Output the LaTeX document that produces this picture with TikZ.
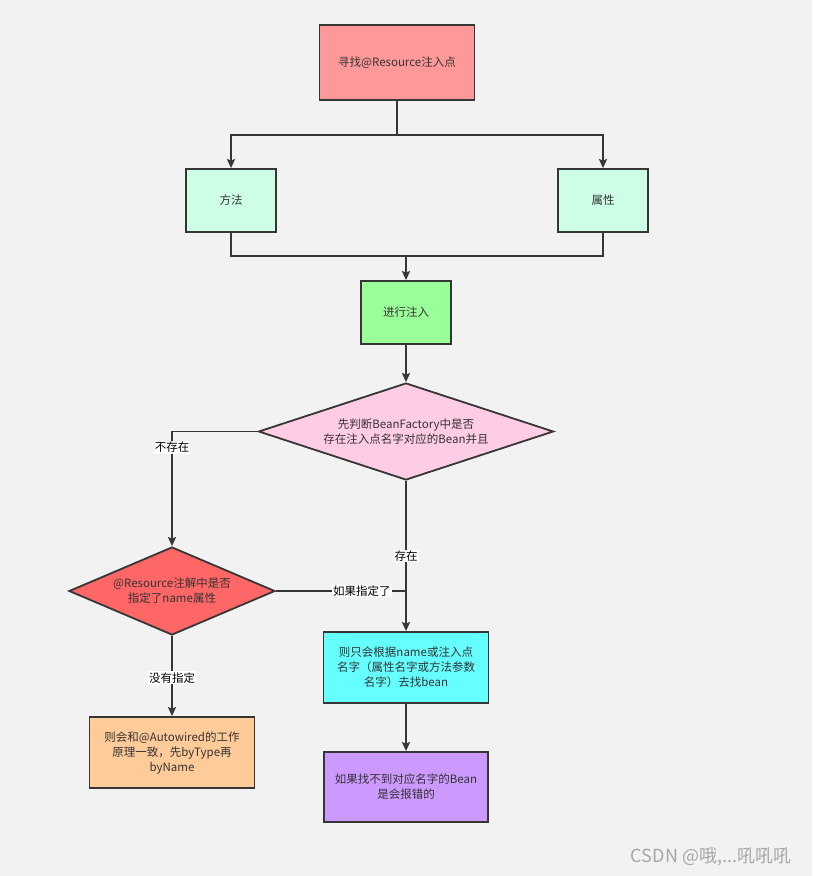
\documentclass[tikz,border=0pt]{standalone}
\usepackage{fontspec}
\setmainfont{Noto Sans CJK SC}
\usetikzlibrary{shapes.geometric,arrows.meta,positioning}
\definecolor{bg}{HTML}{F2F2F2}
\definecolor{line}{HTML}{363636}
\definecolor{txt}{HTML}{333333}
\tikzset{
    block/.style={
           rectangle,
           draw=line, line width=1.8pt,
           text=txt,
           align=center,
           font=\fontsize{11.5}{15}\selectfont
           },
    decision/.style={
           diamond,
           draw=line, line width=1.8pt,
           text=txt,
           align=center, inner sep=0pt,
           font=\fontsize{11.5}{15}\selectfont
           },
    conn/.style={
           draw=line, line width=1.8pt
           },
    lbl/.style={
           fill=white, inner sep=1pt,
           text=black,
           font=\fontsize{11.5}{13}\selectfont
           }
}

\begin{document}
\begin{tikzpicture}[x=1pt, y=-1pt, >={Stealth[length=9pt,width=8pt,inset=1.5pt]}]
   \fill[bg] (0,0) rectangle (812,876);
   \useasboundingbox (0,0) rectangle (812,876);

   \node[block, fill={rgb,255:red,255;green,153;blue,153}, minimum width=155pt, minimum height=75pt]
        (a) at (397,62.5) {寻找@Resource注入点};
   \node[block, fill={rgb,255:red,204;green,255;blue,230}, minimum width=90pt, minimum height=63pt]
        (b) at (231,200.5) {方法};
   \node[block, fill={rgb,255:red,204;green,255;blue,230}, minimum width=90pt, minimum height=63pt]
        (c) at (603,200.5) {属性};
   \node[block, fill={rgb,255:red,153;green,255;blue,153}, minimum width=90pt, minimum height=63pt]
        (d) at (406,312.5) {进行注入};
   \node[decision, aspect=3.04, fill={rgb,255:red,255;green,204;blue,230}, minimum width=295pt, minimum height=97pt]
        (e) at (406,431.5) {先判断BeanFactory中是否\\存在注入点名字对应的Bean并且};
   \node[decision, aspect=2.34, fill={rgb,255:red,255;green,102;blue,102}, minimum width=206pt, minimum height=88pt]
        (f) at (172,591) {@Resource注解中是否\\指定了name属性};
   \node[block, fill={rgb,255:red,102;green,255;blue,255}, minimum width=165pt, minimum height=71pt]
        (g) at (406,667.5) {则只会根据name或注入点\\名字（属性名字或方法参数\\名字）去找bean};
   \node[block, fill={rgb,255:red,255;green,204;blue,153}, minimum width=165pt, minimum height=71pt]
        (h) at (172,752.5) {则会和@Autowired的工作\\原理一致，先byType再\\byName};
   \node[block, fill={rgb,255:red,204;green,153;blue,255}, minimum width=164pt, minimum height=70pt]
        (i) at (406,787) {如果找不到对应名字的Bean\\是会报错的};

   \coordinate (split) at (397,135);
   \coordinate (merge) at (406,256);

   \draw[conn] (a.south) -- (split);
   \draw[conn,->] (split) -| (b.north);
   \draw[conn,->] (split) -| (c.north);
   \draw[conn] (b.south) |- (merge);
   \draw[conn] (c.south) |- (merge);
   \draw[conn,->] (merge) -- (d.north);
   \draw[conn,->] (d.south) -- (e.north);
   \draw[conn,->] (e.west) -| node[lbl, pos=0.57] {不存在} (f.north);
   \draw[conn,->] (e.south) -- node[lbl, pos=0.5] {存在} (g.north);
   \draw[conn] (f.east) -- node[lbl, pos=0.66] {如果指定了} (f.east -| e.south);
   \draw[conn,->] (f.south) -- node[lbl, pos=0.52] {没有指定} (h.north);
   \draw[conn,->] (g.south) -- (i.north);

   \node[text=gray!70, font=\fontsize{18}{18}\selectfont] (w) at (711,857) {CSDN @哦,...吼吼吼};
\end{tikzpicture}
\end{document}
